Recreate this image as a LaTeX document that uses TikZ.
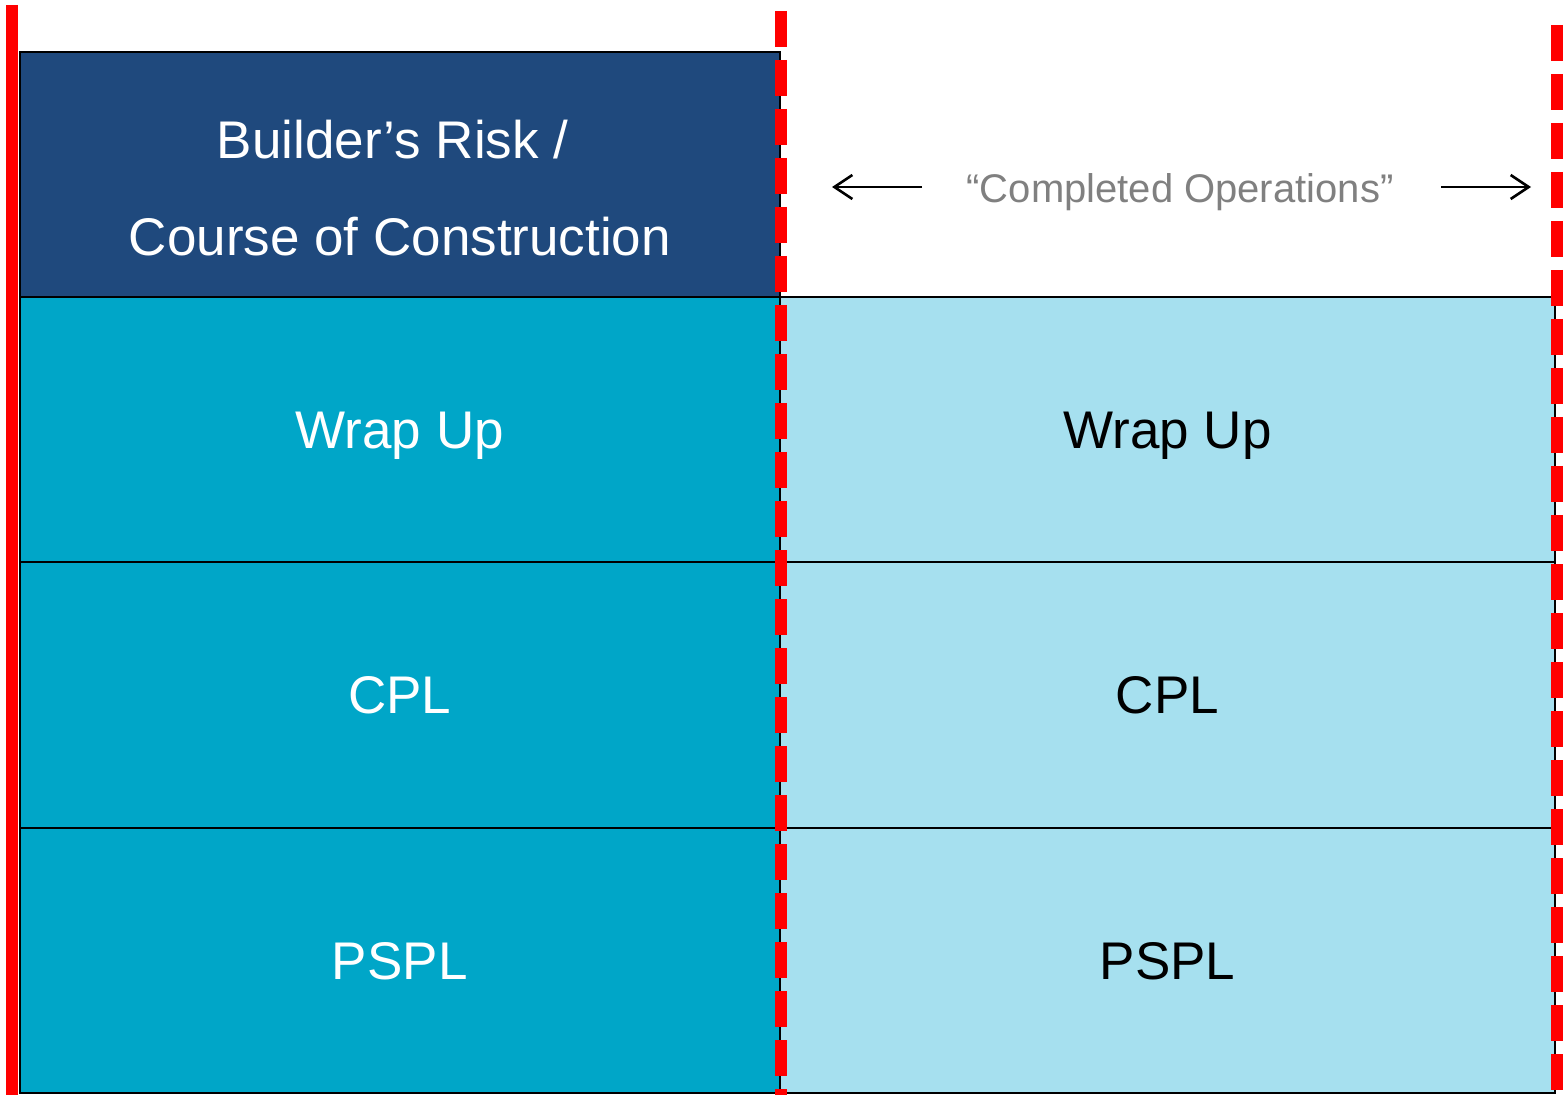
\documentclass[tikz,border=0pt]{standalone}
\usepackage{fontspec}
\setmainfont{Liberation Sans}
\usetikzlibrary{positioning, arrows.meta}
\definecolor{brnavy}{RGB}{31,73,125}
\definecolor{wuteal}{RGB}{0,166,200}
\definecolor{wulight}{RGB}{166,224,239}
\definecolor{cogray}{RGB}{128,128,128}
\tikzset{%
  txt/.style={inner sep=0pt, text depth=0pt},
  big/.style={txt, text height=19pt, font=\fontsize{26.5}{30}\selectfont},
  cell/.style={big, draw=black, line width=1pt, outer sep=0pt, minimum height=132.65pt},
  lc/.style={cell, fill=wuteal, text=white, minimum width=380.25pt},
  rc/.style={cell, fill=wulight, text=black, minimum width=387.5pt},
  hd/.style={lc, fill=brnavy, minimum height=122.5pt},
  bound/.style={draw=red, line width=6pt},
  bdash/.style={bound, dash pattern=on 18pt off 6.5pt},
  eda/.style={-{Straight Barb[length=9pt, width=12pt]}, line width=1.3pt}
}

\begin{document}
\begin{tikzpicture}[x=0.5pt, y=-0.5pt]
  \useasboundingbox (0,0) rectangle (1566,1095);
  \node[hd, anchor=north west] (br) at (19.5,52)        {};
  \node[lc] (wl) [below = 0pt of br]                     {Wrap Up};
  \node[lc] (cl) [below = 0pt of wl]                     {CPL};
  \node[lc] (pl) [below = 0pt of cl]                     {PSPL};
  \node[rc] (wr) [right = 0pt of wl]                     {Wrap Up};
  \node[rc] (cr) [right = 0pt of cl]                     {CPL};
  \node[rc] (pr) [right = 0pt of pl]                     {PSPL};
  \node[big, text=white] (bra) at (400,140)              {Builder’s Risk /\kern.278em};
  \node[big, text=white] (brb) at (400,237)              {Course of Construction};
  \node[txt, text height=14.3pt, text=cogray, font=\fontsize{20}{24}\selectfont] (co) at (1180,188) {“Completed Operations”};
  \coordinate (lt) at (922,187);
  \coordinate (lh) at (832,187);
  \coordinate (rt) at (1441,187);
  \coordinate (rh) at (1531,187);
  \path[eda]
  (lt) edge (lh)
  (rt) edge (rh);
  \draw[bound] (12,5) -- (12,1095);
  \draw[bdash] (780.5,11) -- (780.5,1095);
  \draw[bdash] (1557,25) -- (1557,1095);
\end{tikzpicture}
\end{document}
